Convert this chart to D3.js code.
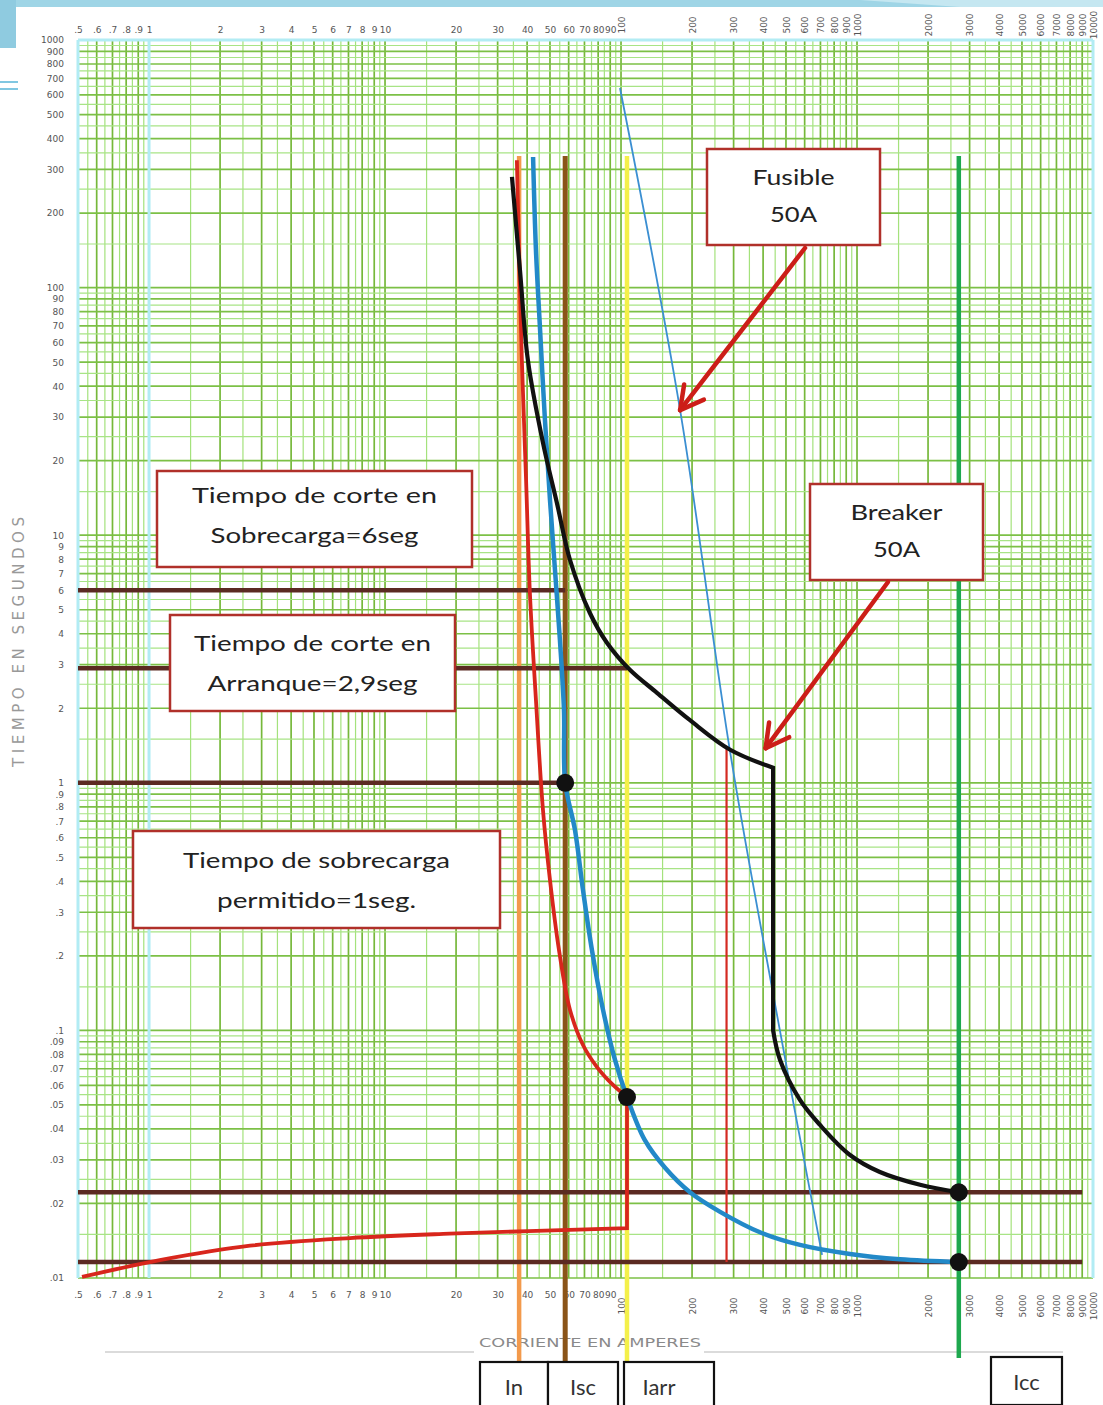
<!DOCTYPE html>
<html><head><meta charset="utf-8">
<script src="https://cdn.jsdelivr.net/npm/d3@7"></script>
<style>body{margin:0;background:#fff}svg{display:block}</style>
</head><body>
<svg id="chart" width="1103" height="1405"></svg>
<script>
// Tick labels of the log-log graph paper
const xTickLabels = [".5",".6",".7",".8",".9","1","2","3","4","5","6","7","8","9","10","20","30","40","50","60","70","80","90","100","200","300","400","500","600","700","800","900","1000","2000","3000","4000","5000","6000","7000","8000","9000","10000"];
const yTickLabels = ["1000","900","800","700","600","500","400","300","200","100","90","80","70","60","50","40","30","20","10","9","8","7","6","5","4","3","2","1",".9",".8",".7",".6",".5",".4",".3",".2",".1",".09",".08",".07",".06",".05",".04",".03",".02",".01"];

// Reference currents (A)
const currentNames = ["In", "Isc", "Iarr", "Icc"];
const currentValues = [37, 58, 106, 2700];
const currentColors = ["#f39a4c", "#8a5418", "#f4f04a", "#1ea84e"];

// Cut-off times (s) and the current where each marker line stops
const cutTimes = [6, 2.9, 1];
const cutTimeEnds = [58, 106, 58];
// Full-width time lines (s)
const longTimes = [0.0222, 0.0116];
const longTimeSpan = [0.5, 9000];

// Curves as [current A, time s]
const breakerUpper = [[34.5,280],[37.3,118],[40.3,51],[46.7,23.6],[53.5,13.5],[60.8,7.94],[73.8,4.85],[87.3,3.67],[109,2.86],[142,2.31],[196,1.79],[290,1.36],[441,1.15]];
const breakerLower = [[441,0.1],[472,0.0759],[573,0.0524],[697,0.0415],[934,0.0314],[1250,0.0268],[1850,0.0238],[2700,0.0222]];
const blueCurve = [[42.4,337],[43.6,142],[45.4,67.4],[47.6,29.2],[50,13.9],[52.5,7.24],[55.1,3.77],[57.3,1.97],[58,1],[63.8,0.645],[69,0.369],[75.3,0.211],[83.9,0.121],[94.3,0.076],[106,0.0538],[126,0.0361],[154,0.0278],[196,0.0222],[263,0.0185],[388,0.0153],[573,0.0136],[934,0.0125],[1520,0.0119],[2700,0.0116]];
const redUpper = [[36.2,327],[38,51],[39.6,16.7],[41.1,5.84],[43.6,2.16],[46.7,0.776],[50,0.405],[54.6,0.211],[60.8,0.121],[69,0.0873],[79.1,0.0711],[92.5,0.0602],[106,0.0538]];
const redLower = [[106,0.0159],[18.8,0.0151],[7.1,0.0145],[2.68,0.0135],[1.11,0.0118],[0.52,0.0101]];
const fuseCurve = [[99,640],[178,32],[290,1.33],[454,0.121],[711,0.0124]];
const tripLine = [[280,1.4],[280,0.0116]];
const dots = [[58,1],[106,0.0538],[2700,0.0222],[2700,0.0116]];
const arrowTargets = [[178,32],[410,1.38]];

const svg = d3.select("#chart");
const x = d3.scaleLog().domain([0.5, 10000]).range([78, 1093]);
const y = d3.scaleLog().domain([0.01, 1000]).range([1278, 40]);
const plotTop = 40, plotBottom = 1278, plotLeft = 78, plotRight = 1093;

// Slide decoration
svg.append("rect").attr("x",0).attr("y",0).attr("width",1103).attr("height",7).attr("fill","#9fd5e6");
svg.append("rect").attr("x",0).attr("y",0).attr("width",16).attr("height",48).attr("fill","#8fcbe0");
svg.append("path").attr("d","M860,0 L1103,0 L1103,7 L960,7 Z").attr("fill","#c5e7f1");
[82, 89].forEach(v => svg.append("line").attr("x1",0).attr("x2",18).attr("y1",v).attr("y2",v)
  .attr("stroke","#62b9da").attr("stroke-width",1.6));

// Grid values: whole and half steps in every decade
function gridValues(lo, hi) {
  const out = [];
  for (let e = -2; e <= 4; e++) {
    for (let m = 1; m < 10; m += 0.5) {
      const v = +(m * Math.pow(10, e)).toPrecision(6);
      if (v >= lo && v <= hi) out.push({v, major: Number.isInteger(m)});
    }
  }
  return out;
}
const grid = svg.append("g");
gridValues(0.5, 10000).forEach(d => {
  grid.append("line").attr("x1", x(d.v)).attr("x2", x(d.v)).attr("y1", plotTop).attr("y2", plotBottom)
    .attr("stroke", d.major ? "#76b83a" : "#a4e27c").attr("stroke-width", d.major ? 1.7 : 1.2);
});
gridValues(0.01, 1000).forEach(d => {
  grid.append("line").attr("x1", plotLeft).attr("x2", plotRight).attr("y1", y(d.v)).attr("y2", y(d.v))
    .attr("stroke", d.major ? "#7cc046" : "#a8e486").attr("stroke-width", d.major ? 1.7 : 1.2);
});
// cyan border and unit line
[0.5, 1, 10000].forEach(v => grid.append("line").attr("x1", x(v)).attr("x2", x(v))
  .attr("y1", plotTop).attr("y2", plotBottom).attr("stroke", "#b2ecf4").attr("stroke-width", 3));
grid.append("line").attr("x1", plotLeft).attr("x2", plotRight).attr("y1", y(1000)).attr("y2", y(1000))
  .attr("stroke", "#b2ecf4").attr("stroke-width", 3);

// Axes
const xVals = xTickLabels.map(Number);
const yVals = yTickLabels.map(Number);
const fmt = v => xTickLabels[xVals.indexOf(v)];
const fmtY = v => yTickLabels[yVals.indexOf(v)];
function styleAxis(g) {
  g.select(".domain").remove();
  g.selectAll("text").attr("fill", "#555").attr("font-size", 9).attr("font-family", "DejaVu Sans");
}
const topAxis = svg.append("g").attr("transform", "translate(0,33)")
  .call(d3.axisTop(x).tickValues(xVals).tickFormat(fmt).tickSize(0).tickPadding(0)).call(styleAxis);
const bottomAxis = svg.append("g").attr("transform", "translate(0,1292)")
  .call(d3.axisBottom(x).tickValues(xVals).tickFormat(fmt).tickSize(0).tickPadding(0)).call(styleAxis);
topAxis.selectAll("text").filter(v => v >= 100)
  .attr("transform", "translate(0,-8) rotate(-90)").attr("text-anchor", "middle").attr("dy", "0.35em").attr("y", 0);
bottomAxis.selectAll("text").filter(v => v >= 100)
  .attr("transform", "translate(0,14) rotate(-90)").attr("text-anchor", "middle").attr("dy", "0.35em").attr("y", 0);
svg.append("g").attr("transform", "translate(64,0)")
  .call(d3.axisLeft(y).tickValues(yVals).tickFormat(fmtY).tickSize(0).tickPadding(0)).call(styleAxis);

// Axis titles
svg.append("text").attr("transform", "translate(24,642) rotate(-90)").attr("text-anchor", "middle")
  .attr("font-family", "DejaVu Sans").attr("font-size", 15).attr("fill", "#999")
  .attr("textLength", 250).attr("lengthAdjust", "spacing").text("TIEMPO EN SEGUNDOS");
svg.append("text").attr("x", 590).attr("y", 1347).attr("text-anchor", "middle")
  .attr("font-family", "DejaVu Sans").attr("font-size", 13).attr("fill", "#8a8a8a")
  .attr("textLength", 222).attr("lengthAdjust", "spacingAndGlyphs").text("CORRIENTE EN AMPERES");
[[105, 474], [704, 1063]].forEach(s => svg.append("line").attr("x1", s[0]).attr("x2", s[1])
  .attr("y1", 1352).attr("y2", 1352).attr("stroke", "#cfcfcf").attr("stroke-width", 1.6));

// Reference current lines
const vBottoms = [1362, 1362, 1405, 1358];
currentValues.forEach((v, i) => {
  svg.append("line").attr("x1", x(v)).attr("x2", x(v)).attr("y1", y(340)).attr("y2", vBottoms[i])
    .attr("stroke", currentColors[i]).attr("stroke-width", i === 1 ? 5 : 4.5);
});

// Time marker lines
const brown = "#5b2a22";
cutTimes.forEach((t, i) => svg.append("line").attr("x1", x(0.5)).attr("x2", x(cutTimeEnds[i]))
  .attr("y1", y(t)).attr("y2", y(t)).attr("stroke", brown).attr("stroke-width", 4.5));
longTimes.forEach(t => svg.append("line").attr("x1", x(longTimeSpan[0])).attr("x2", x(longTimeSpan[1]))
  .attr("y1", y(t)).attr("y2", y(t)).attr("stroke", brown).attr("stroke-width", 4.5));

// Curves
const smooth = d3.line().x(d => x(d[0])).y(d => y(d[1])).curve(d3.curveCatmullRom.alpha(0.5));
const straight = d3.line().x(d => x(d[0])).y(d => y(d[1]));
const joined = (a, b) => smooth(a) + smooth(b).replace(/^M/, "L");

svg.append("path").attr("d", straight(tripLine)).attr("fill", "none").attr("stroke", "#d42a22").attr("stroke-width", 2.2);
svg.append("path").attr("d", smooth(fuseCurve)).attr("fill", "none").attr("stroke", "#3b8fd2").attr("stroke-width", 1.8);
svg.append("path").attr("d", joined(redUpper, redLower)).attr("fill", "none").attr("stroke", "#d8261c")
  .attr("stroke-width", 3.8).attr("stroke-linejoin", "miter");
svg.append("path").attr("d", smooth(blueCurve)).attr("fill", "none").attr("stroke", "#2289c8").attr("stroke-width", 4.5);
svg.append("path").attr("d", joined(breakerUpper, breakerLower)).attr("fill", "none").attr("stroke", "#111")
  .attr("stroke-width", 4.2).attr("stroke-linejoin", "miter");

svg.selectAll("circle.pt").data(dots).join("circle").attr("class", "pt")
  .attr("cx", d => x(d[0])).attr("cy", d => y(d[1])).attr("r", 9).attr("fill", "#111");

// Annotation boxes
const boxes = [
  {x: 707, y: 149, w: 173, h: 96, lines: ["Fusible", "50A"], ty: [185, 222], tw: [82, 47]},
  {x: 810, y: 484, w: 173, h: 96, lines: ["Breaker", "50A"], ty: [520, 557], tw: [92, 47]},
  {x: 157, y: 471, w: 315, h: 96, lines: ["Tiempo de corte  en", "Sobrecarga=6seg"], ty: [503, 543], tw: [245, 208]},
  {x: 170, y: 615, w: 285, h: 96, lines: ["Tiempo de corte en", "Arranque=2,9seg"], ty: [651, 691], tw: [237, 210]},
  {x: 133, y: 831, w: 367, h: 97, lines: ["Tiempo de sobrecarga", "permitido=1seg."], ty: [868, 908], tw: [267, 199]}
];
boxes.forEach(b => {
  svg.append("rect").attr("x", b.x).attr("y", b.y).attr("width", b.w).attr("height", b.h)
    .attr("fill", "#fff").attr("stroke", "#b0302a").attr("stroke-width", 2.5);
  b.lines.forEach((t, i) => svg.append("text").attr("x", b.x + b.w / 2).attr("y", b.ty[i])
    .attr("text-anchor", "middle").attr("font-family", "Lato").attr("font-size", 22).attr("fill", "#222")
    .attr("textLength", b.tw[i]).attr("lengthAdjust", "spacingAndGlyphs").text(t));
});

// Arrows from the device boxes to their curves
const arrowStarts = [[805, 248], [888, 582]];
arrowTargets.forEach((t, i) => {
  const tx = x(t[0]), ty = y(t[1]);
  const [sx, sy] = arrowStarts[i];
  const ang = Math.atan2(sy - ty, sx - tx);
  const g = svg.append("g").attr("stroke", "#cc1e18").attr("stroke-width", 4.5).attr("stroke-linecap", "round").attr("fill", "none");
  g.append("line").attr("x1", sx).attr("y1", sy).attr("x2", tx).attr("y2", ty);
  [-0.5, 0.5].forEach(da => g.append("line").attr("x1", tx).attr("y1", ty)
    .attr("x2", tx + 26 * Math.cos(ang + da)).attr("y2", ty + 26 * Math.sin(ang + da)));
});

// Current name boxes below the graph
const nameBoxes = [
  {x: 480, y: 1362, w: 68, h: 50},
  {x: 548, y: 1362, w: 70, h: 50},
  {x: 624, y: 1362, w: 90, h: 50},
  {x: 991, y: 1357, w: 71, h: 48}
];
nameBoxes.forEach((b, i) => {
  svg.append("rect").attr("x", b.x).attr("y", b.y).attr("width", b.w).attr("height", b.h)
    .attr("fill", "#fff").attr("stroke", "#111").attr("stroke-width", 2.2);
  svg.append("text").attr("x", b.x + b.w / 2 - (i === 2 ? 10 : 0)).attr("y", b.y + 33)
    .attr("text-anchor", "middle").attr("font-family", "Lato").attr("font-size", 22).attr("fill", "#333")
    .text(currentNames[i]);
});
</script>
</body></html>
